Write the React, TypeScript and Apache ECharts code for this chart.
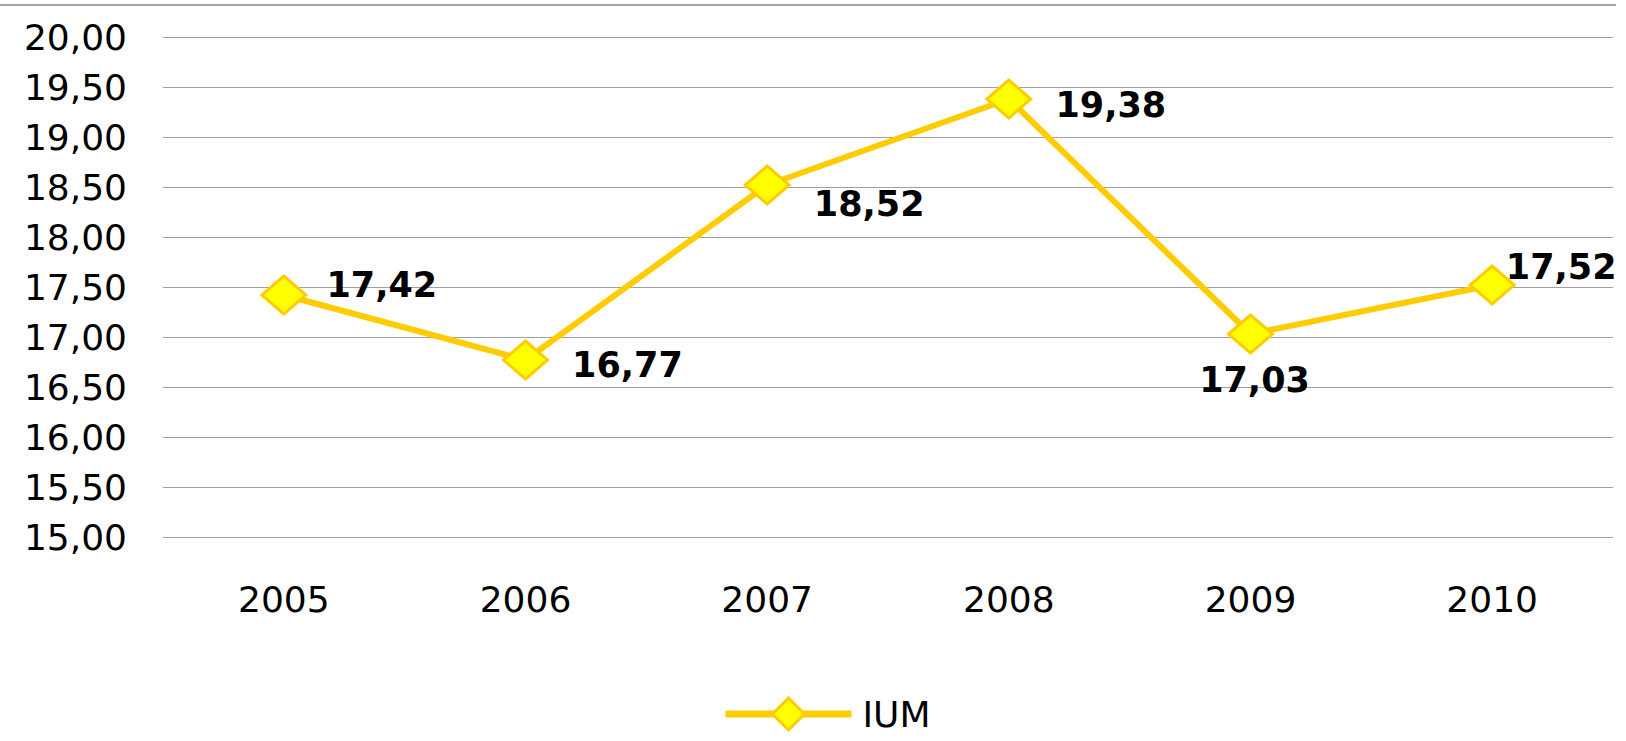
import React, { useEffect, useRef } from "react";
import * as echarts from "echarts";

const categories = ["2005", "2006", "2007", "2008", "2009", "2010"];
const seriesName = "IUM";
const values = [17.42, 16.77, 18.52, 19.38, 17.03, 17.52];
const yMin = 15;
const yMax = 20;
const yInterval = 0.5;

// label placement styling per point: [position, dx, dy]
const labelPlacement: [string, number, number][] = [
  ["right", -4, -10],
  ["right", 0, 5],
  ["right", 0, 19],
  ["right", 0, 6],
  ["bottom", 4, 0],
  ["right", -33, -18],
];

const fmt = (v: number) => v.toFixed(2).replace(".", ",");

export default function App() {
  const ref = useRef<HTMLDivElement>(null);
  useEffect(() => {
    if (!ref.current) return;
    const chart = echarts.init(ref.current, undefined, { renderer: "svg" });
    const font = "DejaVu Sans";
    chart.setOption({
      animation: false,
      backgroundColor: "#ffffff",
      grid: { left: 163, right: 13, top: 37, bottom: 204, containLabel: false },
      graphic: [
        {
          type: "line",
          shape: { x1: 0, y1: 5, x2: 1616, y2: 5 },
          style: { stroke: "#a6a6a6", lineWidth: 2 },
        },
      ],
      xAxis: {
        type: "category",
        data: categories,
        boundaryGap: true,
        axisLine: { show: false },
        axisTick: { show: false },
        axisLabel: { fontFamily: font, fontSize: 36, color: "#000", margin: 44 },
      },
      yAxis: {
        type: "value",
        min: yMin,
        max: yMax,
        interval: yInterval,
        axisLine: { show: false },
        axisTick: { show: false },
        splitLine: { lineStyle: { color: "#a0a0a0", width: 1 } },
        axisLabel: {
          fontFamily: font,
          fontSize: 36,
          color: "#000",
          margin: 36,
          formatter: (v: number) => fmt(v),
        },
      },
      legend: {
        left: 717,
        top: 691,
        itemWidth: 126,
        itemHeight: 40,
        itemStyle: { color: "#FFFF00", borderColor: "#FFCC00", borderWidth: 3 },
        lineStyle: { color: "#FFCC00", width: 7 },
        textStyle: {
          fontFamily: font,
          fontSize: 36,
          lineHeight: 36,
          color: "#000",
          padding: [0, 0, 0, 6],
        },
        data: [seriesName],
      },
      series: [
        {
          name: seriesName,
          type: "line",
          data: values.map((v, i) => {
            const [pos, dx, dy] = labelPlacement[i];
            return {
              value: v,
              label: {
                position: pos,
                offset: [dx, dy],
                distance: pos === "bottom" ? 8 : 23,
              },
            };
          }),
          symbol: "diamond",
          symbolSize: [44, 38],
          lineStyle: { color: "#FFCC00", width: 6 },
          itemStyle: { color: "#FFFF00", borderColor: "#FFCC00", borderWidth: 3 },
          label: {
            show: true,
            fontFamily: font,
            fontWeight: "bold",
            fontSize: 35,
            color: "#000",
            formatter: (p: any) => fmt(p.value),
          },
        },
      ],
    });
    return () => chart.dispose();
  }, []);
  return (
    <div
      ref={ref}
      style={{ position: "absolute", left: 0, top: 0, width: 1626, height: 741 }}
    />
  );
}
